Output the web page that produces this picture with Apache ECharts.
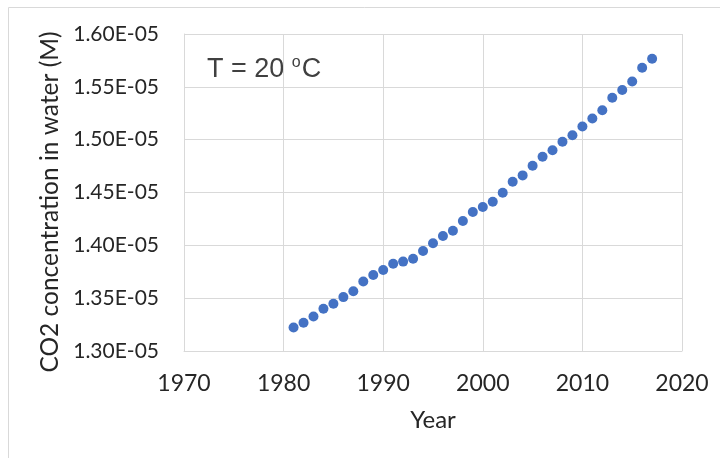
<!DOCTYPE html>
<html>
<head>
<meta charset="utf-8">
<script src="https://cdn.jsdelivr.net/npm/echarts@6/dist/echarts.min.js"></script>
<style>html,body{margin:0;padding:0;background:#fff}#c{width:720px;height:458px}</style>
</head>
<body>
<div id="c"></div>
<script>
const years = [1981,1982,1983,1984,1985,1986,1987,1988,1989,1990,1991,1992,1993,1994,1995,1996,1997,1998,1999,2000,2001,2002,2003,2004,2005,2006,2007,2008,2009,2010,2011,2012,2013,2014,2015,2016,2017];
const co2 = [1.3222,1.3268,1.3327,1.3400,1.3448,1.3510,1.3566,1.3658,1.3719,1.3767,1.3825,1.3846,1.3873,1.3946,1.4020,1.4088,1.4138,1.4230,1.4315,1.4363,1.4413,1.4497,1.4601,1.4662,1.4753,1.4838,1.4900,1.4980,1.5042,1.5125,1.5200,1.5279,1.5396,1.5470,1.5550,1.5680,1.5765];
const xTicks = [1970,1980,1990,2000,2010,2020];
const yTicks = [1.30,1.35,1.40,1.45,1.50,1.55,1.60];
const yTitle = 'CO2 concentration in water (M)';
const xTitle = 'Year';

function fmtE(v){
  const s = v.toExponential(2);
  const [m, e] = s.split('e');
  const sign = e[0] === '-' ? '-' : '+';
  let d = e.replace(/^[+-]/,'');
  if (d.length < 2) d = '0' + d;
  return m + 'E' + sign + d;
}

const chart = echarts.init(document.getElementById('c'));
chart.setOption({
  animation: false,
  grid: {left: 184, right: 38, top: 34, bottom: 107},
  graphic: [
    {type:'rect', shape:{x:8.5, y:7.5, width:800, height:600}, style:{fill:'none', stroke:'#d9d9d9', lineWidth:1}, silent:true, z:-1},
    {type:'text', left: 207, top: 55, style:{
      text: '{t|T = 20 }{s|o}{t|C}',
      rich: {
        t: {fontFamily:'Liberation Sans', fontSize: 27, fill:'#404040', verticalAlign:'bottom'},
        s: {fontFamily:'Liberation Sans', fontSize: 16, fill:'#404040', verticalAlign:'top', padding:[0,1,12,0]}
      }
    }},
    {type:'text', x: 50, y: 202, rotation: Math.PI/2, style:{
      text: yTitle, fontFamily:'Lato', fontSize: 24.5, fill:'#262626', align:'center', verticalAlign:'middle'
    }}
  ],
  xAxis: {
    type: 'value', min: xTicks[0], max: xTicks[xTicks.length-1], interval: 10,
    name: xTitle, nameLocation: 'middle', nameGap: 69,
    nameTextStyle: {fontFamily:'Lato', fontSize: 24, color:'#262626', verticalAlign:'middle'},
    axisLine: {show: true, lineStyle: {color:'#d9d9d9', width: 1}},
    axisTick: {show: false},
    axisLabel: {fontFamily:'Lato', fontSize: 23, color:'#262626', margin: 21, formatter: v => String(v)},
    splitLine: {show: true, lineStyle: {color:'#d9d9d9', width: 1}}
  },
  yAxis: {
    type: 'value', min: yTicks[0]*1e-5, max: yTicks[yTicks.length-1]*1e-5, interval: 0.05e-5,
    axisLine: {show: true, lineStyle: {color:'#d9d9d9', width: 1}},
    axisTick: {show: false},
    axisLabel: {fontFamily:'Lato', fontSize: 21, color:'#262626', margin: 25, formatter: fmtE},
    splitLine: {show: true, lineStyle: {color:'#d9d9d9', width: 1}}
  },
  series: [{
    type: 'scatter', symbol: 'circle', symbolSize: 10,
    itemStyle: {color: '#4472C4', opacity: 1},
    data: years.map((y, i) => [y, co2[i]*1e-5])
  }]
});
</script>
</body>
</html>
